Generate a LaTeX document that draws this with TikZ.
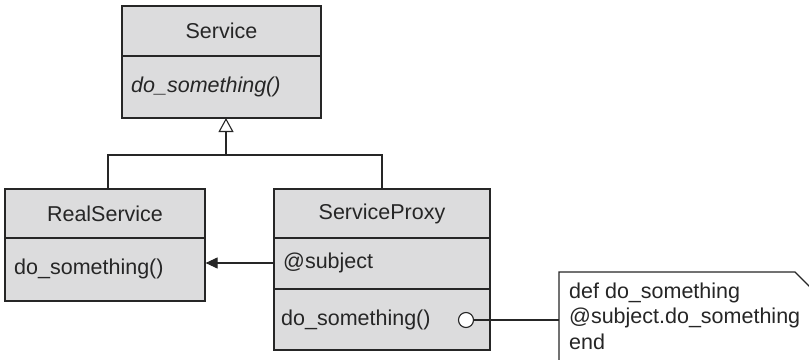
\documentclass[tikz,border=0pt]{standalone}
\usepackage{fontspec}
\setmainfont{Liberation Sans}
\usetikzlibrary{arrows.meta}
\definecolor{boxfill}{HTML}{DCDCDD}
\definecolor{ink}{HTML}{262626}
\begin{document}
\begin{tikzpicture}[x=1pt,y=-1pt,
  umlbox/.style={draw=ink,fill=boxfill,line width=1.2pt,rectangle,inner sep=0pt},
  lbl/.style={inner sep=0pt,anchor=west,text=ink,font=\fontsize{21.5}{24.5}\selectfont},
  ttl/.style={inner sep=0pt,text=ink,font=\fontsize{21.5}{24.5}\selectfont},
  conn/.style={draw=ink,line width=1.1pt}]
\useasboundingbox (0,0) rectangle (809,359);
\clip (0,0) rectangle (809,359);
% Service
\node[umlbox,minimum width=199pt,minimum height=112pt] (service) at (221.5,62) {};
\draw[conn] (122,56) -- (321,56);
\node[ttl] (servicet) at (221.5,31) {Service};
\node[lbl] (servicem) at (131,87) {\itshape do\_something()};
% RealService
\node[umlbox,minimum width=200pt,minimum height=112pt] (real) at (105,245) {};
\draw[conn] (5,238) -- (205,238);
\node[ttl] (realt) at (105,214) {RealService};
\node[lbl] (realm) at (14,269) {do\_something()};
% ServiceProxy
\node[umlbox,minimum width=216pt,minimum height=161pt] (proxy) at (382,269.5) {};
\draw[conn] (274,238) -- (490,238);
\draw[conn] (274,289) -- (490,289);
\node[ttl] (proxyt) at (382,214) {ServiceProxy};
\node[lbl] (subj) at (283,263) {@subject};
\node[lbl] (proxym) at (281,320) {do\_something()};
% inheritance
\coordinate (j) at (226,155);
\draw[conn] ([xshift=3pt]real.north) |- (j) -| (proxy.north);
\draw[conn,-{Triangle[open,length=14pt,width=15pt,line width=1.1pt]}] (j) -- (226,118);
% association
\draw[conn,-{Triangle[length=12pt,width=11pt]}] (subj.west -| proxy.west) -- (subj.west -| real.east);
% note
\node[draw=ink,line width=1.1pt,fill=white,circle,minimum size=15pt,inner sep=0pt] (dot) at (466,320) {};
\draw[conn,fill=white] (559,272) -- (795,272) -- (840,317) -- (840,400) -- (559,400) -- cycle;
\coordinate (notew) at (559,320);
\draw[conn] (dot.east) -- (notew);
\node[lbl] (n1) at (569,293) {def do\_something};
\node[lbl] (n2) at (569,318) {@subject.do\_something};
\node[lbl] (n3) at (569,342) {end};
\end{tikzpicture}
\end{document}
